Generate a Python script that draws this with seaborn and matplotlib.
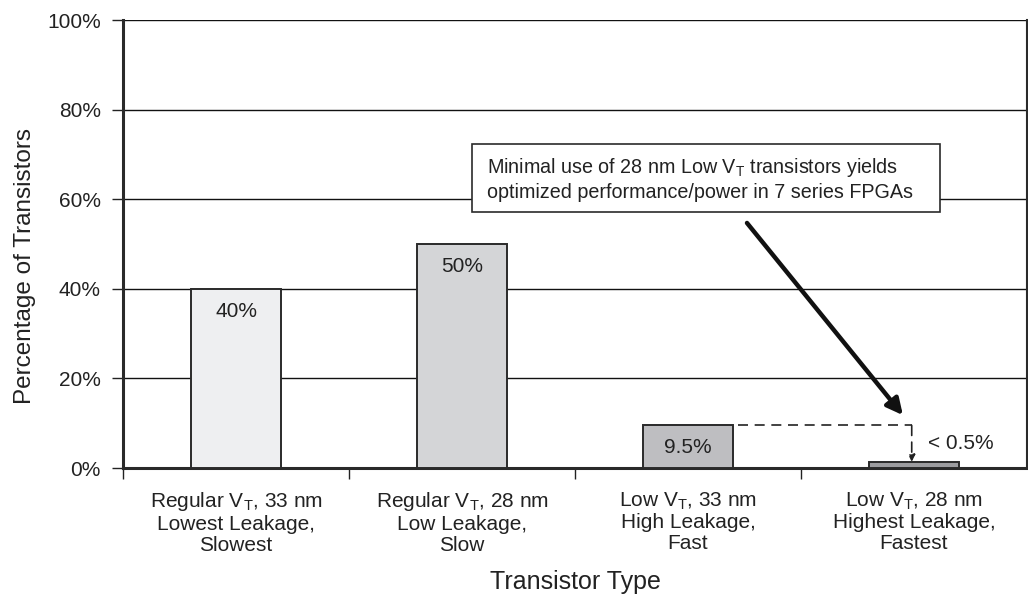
import matplotlib
matplotlib.use("Agg")
import matplotlib.pyplot as plt
from matplotlib.patches import Rectangle
import seaborn as sns
import pandas as pd

categories = [
    "Regular V$_\\mathrm{T}$, 33 nm\nLowest Leakage,\nSlowest",
    "Regular V$_\\mathrm{T}$, 28 nm\nLow Leakage,\nSlow",
    "Low V$_\\mathrm{T}$, 33 nm\nHigh Leakage,\nFast",
    "Low V$_\\mathrm{T}$, 28 nm\nHighest Leakage,\nFastest",
]
values = [40, 50, 9.5, 1.4]
value_labels = ["40%", "50%", "9.5%", "< 0.5%"]
bar_colors = ["#eeeff1", "#d4d5d7", "#bdbec1", "#9c9da0"]
y_ticks = [0, 20, 40, 60, 80, 100]
y_tick_labels = ["0%", "20%", "40%", "60%", "80%", "100%"]
note = "Minimal use of 28 nm Low V$_\\mathrm{T}$ transistors yields\noptimized performance/power in 7 series FPGAs"

sns.set_theme(style="white")
plt.rcParams["font.family"] = ["Liberation Sans", "DejaVu Sans"]
plt.rcParams["mathtext.fontset"] = "custom"
plt.rcParams["mathtext.rm"] = "Liberation Sans"
plt.rcParams["mathtext.it"] = "Liberation Sans:italic"
plt.rcParams["mathtext.bf"] = "Liberation Sans:bold"

TXT = "#222222"
FS = 15
df = pd.DataFrame({"cat": categories, "val": values})

fig = plt.figure(figsize=(10.28, 5.94), dpi=100)
ax = fig.add_axes([0.1197, 0.2121, 0.8793, 0.7542])

sns.barplot(data=df, x="cat", y="val", hue="cat", palette=bar_colors,
            width=0.4, edgecolor="#2a2a2a", linewidth=1.4, legend=False,
            ax=ax, zorder=3)

ax.set_ylim(0, 100)
ax.set_xlim(-0.5, 3.5)
ax.set_yticks(y_ticks)
ax.set_yticklabels(y_tick_labels, fontsize=FS, color=TXT)
ax.yaxis.grid(True, color="#111111", linewidth=1.0, zorder=0)
ax.set_axisbelow(True)
ax.tick_params(axis="y", which="major", direction="out", length=8, width=1,
               color="#222222", left=True, pad=8)
ax.tick_params(axis="x", which="major", length=0, pad=16)
ax.set_xticks(range(len(categories)))
ax.set_xticklabels(categories, fontsize=FS, color=TXT, linespacing=1.12)
ax.set_xticks([-0.5, 0.5, 1.5, 2.5], minor=True)
ax.tick_params(axis="x", which="minor", direction="out", length=8, width=1,
               color="#222222", bottom=True)

for side in ["left", "bottom"]:
    ax.spines[side].set_linewidth(2.2)
    ax.spines[side].set_color("#2a2a2a")
ax.spines["right"].set_visible(True)
ax.spines["right"].set_linewidth(1.5)
ax.spines["right"].set_color("#2a2a2a")
ax.spines["top"].set_visible(False)

ax.set_xlabel("Transistor Type", fontsize=18, color=TXT, labelpad=11)
ax.set_ylabel("Percentage of Transistors", fontsize=17.5, color=TXT)
ax.yaxis.set_label_coords(-0.096, 0.451)

# labels inside bars
for i in range(3):
    ax.annotate(value_labels[i], xy=(i, values[i]), xytext=(0, -16),
                textcoords="offset points", ha="center", va="center",
                fontsize=FS, color=TXT, zorder=5)
ax.text(3.06, 5.4, value_labels[3], ha="left", va="center", fontsize=FS,
        color=TXT, zorder=5)

# dashed connector from bar 3 to bar 4
ax.plot([2.22, 2.99], [values[2], values[2]], ls=(0, (6, 4)), color="#222222",
        lw=1.2, zorder=4)
ax.annotate("", xy=(2.99, values[3]), xytext=(2.99, values[2]),
            arrowprops=dict(arrowstyle="-|>", ls=(0, (6, 4)), color="#222222",
                            lw=1.2, mutation_scale=10, shrinkA=0, shrinkB=0),
            zorder=4)

# big arrow
ax.annotate("", xy=(2.951, 11.8), xytext=(2.261, 54.7),
            arrowprops=dict(arrowstyle="-|>", color="#111111", lw=3.2,
                            mutation_scale=24, shrinkA=0, shrinkB=0),
            zorder=4)

# note box
ax.add_patch(Rectangle((1.044, 57.1), 2.071, 15.2, facecolor="white",
                       edgecolor="#2a2a2a", linewidth=1.2, zorder=6))
ax.text(1.11, 64.5, note, ha="left", va="center", fontsize=14.2, color=TXT,
        linespacing=1.25, zorder=7)

fig.savefig("out.png", dpi=100)
